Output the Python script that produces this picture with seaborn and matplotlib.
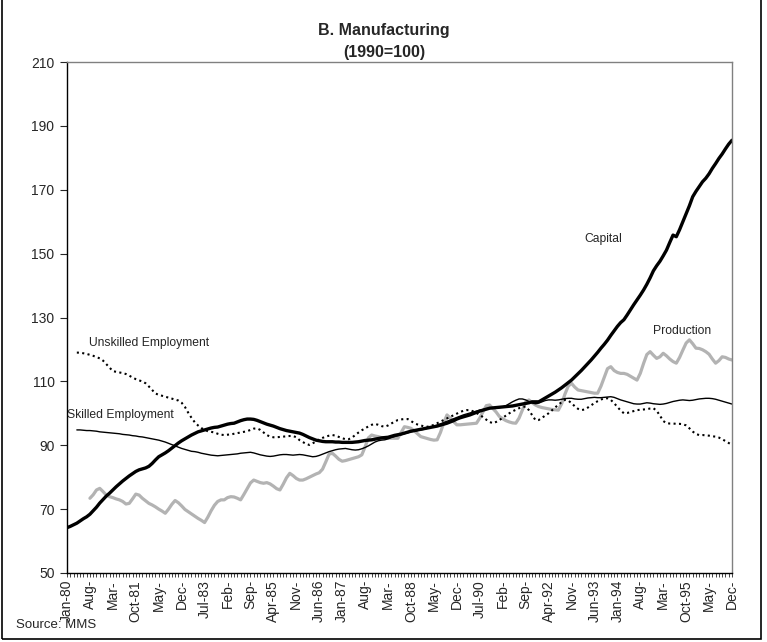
import numpy as np
import pandas as pd
import matplotlib
matplotlib.use("Agg")
import matplotlib.pyplot as plt
from matplotlib.patches import Rectangle
import seaborn as sns

# ------------------------------------------------------------
# Datos mensuales Jan-80 .. Dec-96 (1990=100)
# ------------------------------------------------------------
nan = np.nan

capital = [
    64.2, 64.6, 65.1, 65.6, 66.3, 67.0, 67.6, 68.4, 69.5, 70.6, 71.9, 73.0,
    74.1, 75.0, 76.0, 77.0, 77.9, 78.8, 79.6, 80.4, 81.1, 81.8, 82.3, 82.6,
    82.9, 83.4, 84.3, 85.4, 86.4, 87.0, 87.6, 88.3, 89.1, 89.9, 90.7, 91.4,
    92.0, 92.6, 93.2, 93.7, 94.2, 94.5, 94.8, 95.1, 95.4, 95.6, 95.7, 96.0,
    96.3, 96.6, 96.8, 96.9, 97.3, 97.7, 98.0, 98.2, 98.2, 98.1, 97.8, 97.4,
    97.0, 96.6, 96.3, 96.0, 95.6, 95.2, 94.9, 94.6, 94.4, 94.2, 94.0, 93.8,
    93.4, 92.9, 92.4, 92.0, 91.6, 91.4, 91.2, 91.1, 91.1, 91.1, 91.0, 91.0,
    90.9, 90.9, 90.9, 90.9, 91.0, 91.1, 91.3, 91.5, 91.6, 91.7, 91.9, 92.1,
    92.3, 92.4, 92.5, 92.8, 93.1, 93.3, 93.5, 93.8, 94.1, 94.4, 94.6, 94.8,
    95.0, 95.2, 95.4, 95.6, 95.8, 96.0, 96.3, 96.6, 96.9, 97.3, 97.7, 98.2,
    98.6, 98.9, 99.2, 99.5, 99.9, 100.3, 100.7, 101.0, 101.3, 101.6, 101.7, 101.8,
    101.9, 102.0, 102.1, 102.2, 102.3, 102.5, 102.7, 102.9, 103.1, 103.3, 103.6, 103.6,
    103.6, 104.2, 104.8, 105.4, 106.0, 106.6, 107.3, 108.0, 108.8, 109.6, 110.4, 111.4,
    112.4, 113.4, 114.5, 115.6, 116.7, 117.9, 119.1, 120.4, 121.6, 122.9, 124.4, 125.8,
    127.2, 128.4, 129.3, 130.8, 132.4, 134.0, 135.5, 137.0, 138.6, 140.4, 142.4, 144.6,
    146.2, 147.6, 149.3, 151.1, 153.5, 155.8, 155.3, 157.5, 160.0, 162.5, 165.0, 167.8,
    169.5, 171.0, 172.5, 173.6, 175.0, 176.7, 178.2, 179.8, 181.2, 182.8, 184.3, 185.5,
]

skilled = [
    nan, nan, nan, 94.8, 94.8, 94.7, 94.6, 94.6, 94.5, 94.4, 94.2, 94.1,
    94.0, 93.9, 93.8, 93.7, 93.6, 93.4, 93.3, 93.2, 93.0, 92.9, 92.7, 92.6,
    92.4, 92.2, 92.0, 91.8, 91.6, 91.3, 91.0, 90.6, 90.2, 89.8, 89.4, 89.0,
    88.7, 88.4, 88.1, 88.0, 87.8, 87.5, 87.3, 87.1, 86.9, 86.8, 86.7, 86.8,
    86.9, 87.0, 87.1, 87.2, 87.3, 87.5, 87.6, 87.7, 87.8, 87.6, 87.3, 87.0,
    86.8, 86.6, 86.5, 86.6, 86.8, 87.0, 87.1, 87.1, 87.0, 86.9, 87.0, 87.1,
    87.0, 86.8, 86.6, 86.4, 86.5, 86.8, 87.2, 87.6, 88.0, 88.3, 88.6, 88.8,
    88.9, 89.0, 88.8, 88.6, 88.5, 88.6, 88.9, 89.3, 89.8, 90.4, 91.0, 91.4,
    91.6, 91.7, 92.0, 92.4, 92.7, 93.0, 93.3, 93.6, 93.9, 94.2, 94.4, 94.6,
    94.8, 95.0, 95.3, 95.6, 95.9, 96.3, 96.7, 97.1, 97.5, 97.9, 98.3, 98.7,
    99.1, 99.5, 99.8, 100.1, 100.4, 100.7, 101.0, 101.2, 101.4, 101.6, 101.7, 101.8,
    101.8, 102.0, 102.4, 103.0, 103.6, 104.1, 104.5, 104.5, 104.2, 103.7, 103.2, 103.0,
    103.2, 103.6, 104.0, 104.2, 104.2, 104.1, 104.2, 104.4, 104.6, 104.7, 104.7, 104.5,
    104.4, 104.4, 104.6, 104.8, 104.9, 105.0, 104.9, 104.9, 105.0, 105.1, 105.2, 105.0,
    104.6, 104.2, 103.9, 103.6, 103.3, 103.0, 102.9, 102.9, 103.1, 103.3, 103.2, 103.0,
    102.9, 102.8, 102.9, 103.1, 103.4, 103.7, 103.9, 104.1, 104.2, 104.1, 104.0, 104.1,
    104.3, 104.5, 104.6, 104.7, 104.7, 104.6, 104.4, 104.1, 103.8, 103.5, 103.2, 102.9,
]

unskilled = [
    nan, nan, nan, 119.0, 119.0, 118.8, 118.6, 118.3, 118.0, 117.6, 117.2, 116.5,
    115.4, 114.3, 113.2, 113.0, 112.8, 112.6, 112.3, 111.8, 111.2, 110.7, 110.3, 110.0,
    109.4, 108.4, 107.3, 106.2, 105.8, 105.5, 105.2, 104.9, 104.6, 104.3, 104.0, 103.3,
    102.0, 100.2, 98.6, 97.2, 96.2, 95.4, 94.8, 94.4, 94.2, 94.0, 93.6, 93.3,
    93.2, 93.3, 93.4, 93.6, 93.8, 94.0, 94.2, 94.4, 94.8, 95.2, 95.3, 94.8,
    94.0, 93.2, 92.7, 92.5, 92.5, 92.6, 92.7, 92.8, 92.9, 92.9, 92.5, 91.6,
    91.0, 90.4, 90.1, 90.6, 91.2, 91.8, 92.3, 92.7, 93.0, 93.2, 93.0, 92.6,
    92.2, 91.9, 91.9, 92.4, 93.2, 94.0, 94.7, 95.3, 95.9, 96.4, 96.7, 96.4,
    96.0, 95.8, 96.2, 96.8, 97.4, 97.9, 98.1, 98.2, 98.2, 97.6, 96.9, 96.5,
    96.2, 95.9, 95.8, 96.0, 96.4, 96.9, 97.4, 97.9, 98.4, 98.9, 99.4, 99.9,
    100.4, 100.8, 101.0, 101.0, 100.6, 100.1, 99.5, 98.8, 98.0, 97.3, 96.9, 97.3,
    97.9, 98.6, 99.3, 100.0, 100.6, 101.1, 101.6, 102.0, 102.1, 101.0, 99.4, 97.9,
    97.9, 98.6, 99.3, 100.0, 100.9, 101.8, 102.7, 103.5, 104.2, 104.0, 103.2, 102.2,
    101.4, 101.0, 101.2, 101.8, 102.5, 103.2, 103.8, 104.3, 104.7, 104.7, 104.2, 103.2,
    102.0, 100.9, 100.0, 100.1, 100.4, 100.7, 101.0, 101.1, 101.2, 101.3, 101.5, 101.6,
    100.8, 99.3, 97.6, 96.9, 96.8, 96.8, 96.7, 96.7, 96.6, 96.2, 95.3, 94.3,
    93.5, 93.2, 93.2, 93.1, 93.0, 92.8, 92.7, 92.4, 91.9, 91.3, 90.7, 90.1,
]

production = [
    nan, nan, nan, nan, nan, nan, nan, 73.4, 74.5, 76.0, 76.5, 75.5,
    74.4, 73.9, 73.6, 73.2, 72.9, 72.4, 71.6, 71.8, 73.2, 74.7, 74.4, 73.4,
    72.6, 71.8, 71.3, 70.7, 70.0, 69.4, 68.7, 70.0, 71.5, 72.7, 72.0, 71.0,
    69.9, 69.2, 68.5, 67.8, 67.1, 66.5, 65.8, 67.5, 69.5, 71.2, 72.4, 72.9,
    72.9, 73.6, 73.9, 73.8, 73.4, 72.9, 74.6, 76.4, 78.2, 79.1, 78.7, 78.3,
    78.1, 78.3, 77.9, 77.2, 76.4, 76.0, 77.8, 79.8, 81.2, 80.5, 79.6, 79.1,
    79.1, 79.5, 80.0, 80.5, 81.0, 81.4, 82.5, 84.8, 87.2, 87.5, 86.6, 85.6,
    85.0, 85.2, 85.5, 85.8, 86.1, 86.4, 87.0, 89.5, 92.3, 93.2, 92.9, 92.7,
    92.4, 92.3, 92.2, 92.2, 92.2, 92.2, 94.0, 95.8, 95.6, 95.3, 94.5, 93.6,
    92.7, 92.4, 92.1, 91.8, 91.6, 91.7, 94.0, 97.0, 99.5, 98.5, 97.4, 96.4,
    96.4, 96.5, 96.6, 96.7, 96.8, 96.9, 98.5, 100.5, 102.4, 102.6, 101.5, 100.4,
    99.0, 98.3, 97.7, 97.3, 97.0, 96.9, 98.5, 101.0, 103.5, 104.2, 103.3, 102.6,
    102.1, 101.8, 101.6, 101.4, 101.2, 101.1, 101.0, 103.0, 106.0, 108.5, 109.4, 108.2,
    107.3, 107.1, 106.9, 106.7, 106.5, 106.3, 106.3, 108.5, 111.3, 114.0, 114.6, 113.4,
    112.8, 112.5, 112.5, 112.2, 111.6, 111.0, 110.4, 112.5, 115.6, 118.4, 119.3, 118.2,
    117.2, 117.7, 118.8, 118.0, 117.0, 116.2, 115.7, 117.5, 119.8, 122.0, 123.0, 121.8,
    120.4, 120.3, 119.9, 119.3, 118.5, 117.0, 115.7, 116.5, 117.7, 117.5, 117.0, 116.7,
]

# etiquetas del eje x (una cada 7 meses, tal como aparecen)
tick_labels = [
    "Jan-80", "Aug-", "Mar-", "Oct-81", "May-", "Dec-", "Jul-83", "Feb-",
    "Sep-", "Apr-85", "Nov-", "Jun-86", "Jan-87", "Aug-", "Mar-", "Oct-88",
    "May-", "Dec-", "Jul-90", "Feb-", "Sep-", "Apr-92", "Nov-", "Jun-93",
    "Jan-94", "Aug-", "Mar-", "Oct-95", "May-", "Dec-",
]
y_ticks = [50, 70, 90, 110, 130, 150, 170, 190, 210]

# ------------------------------------------------------------
# Figura
# ------------------------------------------------------------
sns.set_style("ticks")
plt.rcParams["font.family"] = ["Liberation Sans", "DejaVu Sans"]

months = np.arange(len(capital))
df = pd.DataFrame({
    "month": months,
    "Capital": capital,
    "Skilled": skilled,
    "Unskilled": unskilled,
    "Production": production,
})

fig = plt.figure(figsize=(7.67, 6.42), dpi=100)
ax = fig.add_axes([67 / 767, 1 - 573 / 642, 665 / 767, 511 / 642])

sns.lineplot(data=df, x="month", y="Production", ax=ax, color="#b3b3b3", lw=2.3)
sns.lineplot(data=df, x="month", y="Unskilled", ax=ax, color="black", lw=1.5,
             linestyle=(0, (1, 1.6)))
sns.lineplot(data=df, x="month", y="Skilled", ax=ax, color="black", lw=1.0)
sns.lineplot(data=df, x="month", y="Capital", ax=ax, color="black", lw=2.4)

ax.set_xlim(0, len(capital) - 1)
ax.set_ylim(50, 210)
ax.set_yticks(y_ticks)
ax.set_yticklabels([str(v) for v in y_ticks], fontsize=10)
ax.set_xticks(np.arange(0, len(capital), 7))
ax.set_xticklabels(tick_labels, rotation=90, fontsize=10)
ax.set_xticks(np.arange(0, len(capital)), minor=True)
ax.tick_params(axis="x", which="both", length=3, width=0.6, pad=2)
ax.tick_params(axis="y", length=5, width=0.8, pad=4)
ax.set_xlabel("")
ax.set_ylabel("")

for side in ["left", "bottom"]:
    ax.spines[side].set_color("black")
    ax.spines[side].set_linewidth(1.0)
for side in ["top", "right"]:
    ax.spines[side].set_visible(True)
    ax.spines[side].set_color("#808080")
    ax.spines[side].set_linewidth(1.0)

# titulo
fig.text(384 / 767, 1 - 31 / 642, "B. Manufacturing", ha="center", va="center",
         fontsize=11.5, fontweight="bold")
fig.text(384 / 767, 1 - 52 / 642, "(1990=100)", ha="center", va="center",
         fontsize=11.5, fontweight="bold")

# etiquetas de series
ax.text(163.6, 154.6, "Capital", ha="center", va="center", fontsize=8.7)
ax.text(187.9, 125.8, "Production", ha="center", va="center", fontsize=8.7)
ax.text(24.9, 122.0, "Unskilled Employment", ha="center", va="center", fontsize=8.7)
ax.text(0, 99.5, "Skilled Employment", ha="left", va="center", fontsize=8.7)

fig.text(16 / 767, 1 - 625 / 642, "Source: MMS", ha="left", va="center", fontsize=9.5)

# marco exterior
fig.patches.append(Rectangle((2 / 767, 3 / 642), 759 / 767, 1.0, transform=fig.transFigure,
                             fill=False, edgecolor="black", lw=1.2))

fig.savefig("out.png", dpi=100)
plt.close(fig)
